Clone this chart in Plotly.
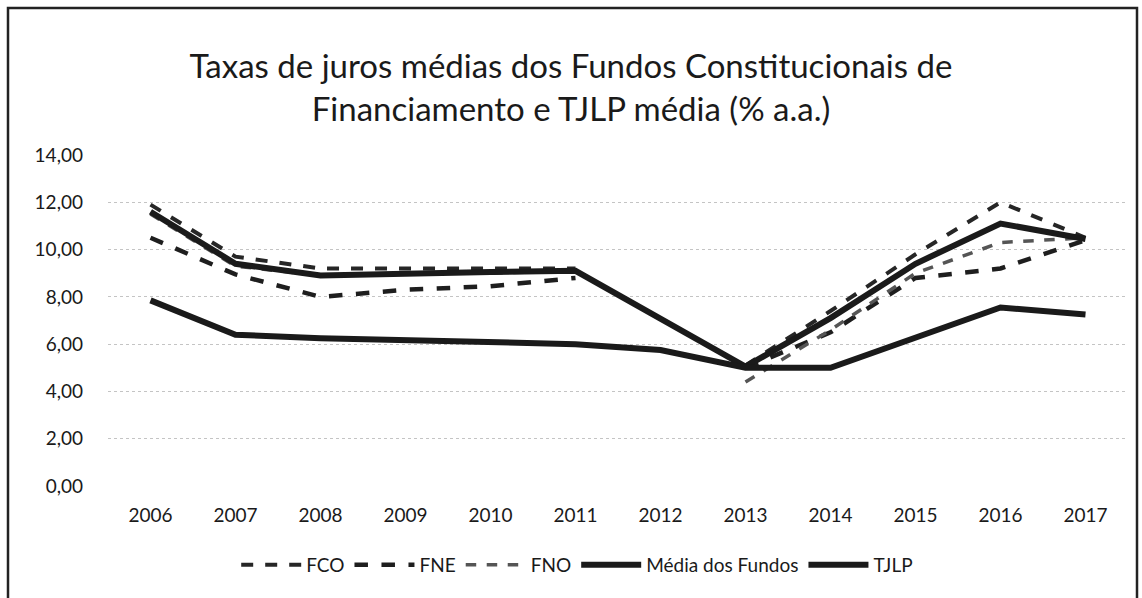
import plotly.graph_objects as go

years = ["2006", "2007", "2008", "2009", "2010", "2011", "2012",
         "2013", "2014", "2015", "2016", "2017"]
fco = [11.9, 9.7, 9.2, 9.2, 9.2, 9.2, None, 5.1, 7.4, 9.8, 12.0, 10.5]
fne = [10.5, 8.95, 8.0, 8.3, 8.45, 8.8, None, 5.0, 6.5, 8.8, 9.2, 10.4]
fno = [11.5, 9.3, 8.9, 9.0, 9.0, 9.1, None, 4.4, 6.6, 9.0, 10.3, 10.5]
media = [11.6, 9.4, 8.9, 9.0, 9.05, 9.1, 7.1, 5.05, 7.1, 9.4, 11.1, 10.45]
tjlp = [7.85, 6.4, 6.25, 6.15, 6.05, 6.0, 5.75, 5.0, 5.0, 6.3, 7.55, 7.25]
y_ticks = [0, 2, 4, 6, 8, 10, 12, 14]
y_labels = ["0,00", "2,00", "4,00", "6,00", "8,00", "10,00", "12,00", "14,00"]

FONT = "Lato, 'Open Sans', sans-serif"

fig = go.Figure()
fig.add_trace(go.Scatter(x=years, y=fco, name="FCO", mode="lines",
                         line=dict(color="#262626", width=4, dash="dash")))
fig.add_trace(go.Scatter(x=years, y=fne, name="FNE", mode="lines",
                         line=dict(color="#1e1e1e", width=4.5, dash="dash")))
fig.add_trace(go.Scatter(x=years, y=fno, name="FNO", mode="lines",
                         line=dict(color="#555555", width=3.5, dash="dash")))
fig.add_trace(go.Scatter(x=years, y=media, name="Média dos Fundos", mode="lines",
                         line=dict(color="#1a1a1a", width=6)))
fig.add_trace(go.Scatter(x=years, y=tjlp, name="TJLP", mode="lines",
                         line=dict(color="#1a1a1a", width=6)))

L, R, T, B = 108, 14, 155, 112
W, H = 1142, 598
pw, ph = W - L - R, H - T - B

def px(x):
    return (x - L) / pw

def py(y):
    return (H - B - y) / ph

fig.add_shape(type="rect", xref="paper", yref="paper",
              x0=px(8), x1=px(1137), y0=py(8), y1=py(640),
              line=dict(color="#222222", width=2.5), fillcolor="rgba(0,0,0,0)",
              layer="below")

fig.update_layout(
    width=W, height=H,
    margin=dict(l=L, r=R, t=T, b=B),
    paper_bgcolor="white", plot_bgcolor="white",
    font=dict(family=FONT, color="#1a1a1a"),
    title=dict(text="Taxas de juros médias dos Fundos Constitucionais de<br>Financiamento e TJLP média (% a.a.)",
               x=0.5, xanchor="center", y=1 - 78 / H, yanchor="middle",
               font=dict(family=FONT, size=33, color="#1a1a1a")),
    xaxis=dict(type="category", range=[-0.5, 11.5], showgrid=False, zeroline=False,
               showline=False, ticks="",
               tickfont=dict(family=FONT, size=19, color="#1a1a1a"),
               ticklabelstandoff=16),
    yaxis=dict(range=[0, 14], tickvals=y_ticks, ticktext=y_labels,
               showgrid=True, gridcolor="#c4c4c4", griddash="dot", gridwidth=1,
               zeroline=False, showline=False, ticks="",
               tickfont=dict(family=FONT, size=19, color="#1a1a1a"),
               ticklabelstandoff=24),
    legend=dict(orientation="h", x=0.46, xanchor="center", y=py(565), yanchor="middle",
                font=dict(family=FONT, size=19, color="#1a1a1a"),
                itemwidth=60, tracegroupgap=0),
    showlegend=True,
)

fig.write_html("out.html", config={"displayModeBar": False},
               post_script="document.body.style.margin='0';document.body.style.padding='0';")
